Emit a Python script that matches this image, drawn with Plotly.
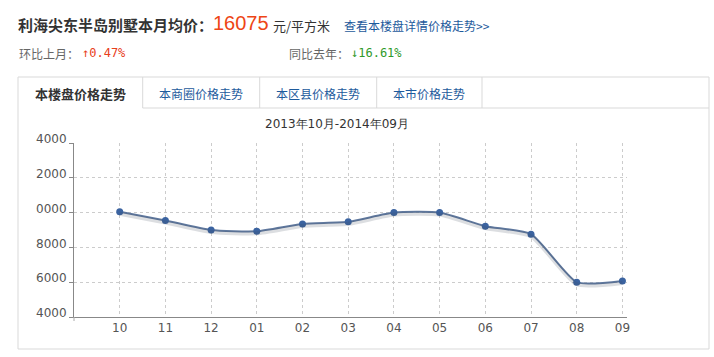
import plotly.graph_objects as go

# ---- data ----
months = ["10", "11", "12", "01", "02", "03", "04", "05", "06", "07", "08", "09"]
prices = [20050, 19550, 19000, 18930, 19350, 19470, 20000, 20000, 19220, 18760, 16000, 16075]
y_tickvals = [24000, 22000, 20000, 18000, 16000, 14000]
y_ticktext = ["4000", "2000", "0000", "8000", "6000", "4000"]
tabs = ["本楼盘价格走势", "本商圈价格走势", "本区县价格走势", "本市价格走势"]
project = "利海尖东半岛别墅本月均价："
avg_price = "16075"
unit = "元/平方米"
detail_link = "查看本楼盘详情价格走势>>"
mom_label, mom_value = "环比上月：", "↑0.47%"
yoy_label, yoy_value = "同比去年：", "↓16.61%"
period = "2013年10月-2014年09月"

# ---- geometry helpers (pixels -> paper) ----
W, H = 714, 357
L, R, T, B = 74, 627, 143, 317
def px(x):
    return (x - L) / (R - L)
def py(y):
    return (B - y) / (B - T)

CJK = "Noto Sans CJK SC"
BORDER = "#d9d9d9"

fig = go.Figure()

# shadow trace (offset a couple of pixels downward via shifted overlay axis)
shift = 2 * 10000 / (B - T)
fig.add_trace(go.Scatter(
    x=months, y=prices, mode="lines", yaxis="y2",
    line=dict(color="rgba(60,70,90,0.18)", width=4, shape="spline", smoothing=0.55),
    hoverinfo="skip", showlegend=False))
fig.add_trace(go.Scatter(
    x=months, y=prices, mode="lines+markers",
    line=dict(color="#60799f", width=2, shape="spline", smoothing=0.55),
    marker=dict(color="#3b63a0", size=7),
    showlegend=False))

shapes = []
# panel outline
shapes.append(dict(type="line", xref="paper", yref="paper", x0=px(18), x1=px(18), y0=py(77), y1=py(349), line=dict(color=BORDER, width=1)))
shapes.append(dict(type="line", xref="paper", yref="paper", x0=px(709), x1=px(709), y0=py(77), y1=py(349), line=dict(color=BORDER, width=1)))
shapes.append(dict(type="line", xref="paper", yref="paper", x0=px(18), x1=px(709), y0=py(77), y1=py(77), line=dict(color=BORDER, width=1)))
shapes.append(dict(type="line", xref="paper", yref="paper", x0=px(18), x1=px(709), y0=py(349), y1=py(349), line=dict(color=BORDER, width=1)))
# tab separators and tab row bottom
tab_edges = [18, 142.7, 259.7, 376.7, 482]
for xe in tab_edges[1:]:
    shapes.append(dict(type="line", xref="paper", yref="paper", x0=px(xe), x1=px(xe), y0=py(77), y1=py(108), line=dict(color=BORDER, width=1)))
shapes.append(dict(type="line", xref="paper", yref="paper", x0=px(142.7), x1=px(709), y0=py(108), y1=py(108), line=dict(color=BORDER, width=1)))
# small tick at the start of the x axis
shapes.append(dict(type="line", xref="paper", yref="paper", x0=0, x1=0, y0=0, y1=py(321), line=dict(color="#aaaaaa", width=1)))

annotations = []
def txt(x, y, s, size, color, family=CJK, xanchor="left", bold=False):
    if bold:
        s = "<b>" + s + "</b>"
    annotations.append(dict(xref="paper", yref="paper", x=px(x), y=py(y), text=s, showarrow=False,
                            xanchor=xanchor, yanchor="middle",
                            font=dict(size=size, color=color, family=family)))

txt(16, 24, project, 15, "#333333", bold=True)
txt(211, 23, avg_price, 20, "#ee4515", family="Liberation Sans")
txt(271, 25, unit, 13, "#333333")
txt(342, 25, detail_link, 12, "#1d5a9c")
txt(17, 53, mom_label, 12, "#666666")
txt(80, 53, mom_value, 12, "#e8401c", family="DejaVu Sans Mono")
txt(287, 53, yoy_label, 12, "#666666")
txt(349, 53, yoy_value, 12, "#2f9a2a", family="DejaVu Sans Mono")

for i, t in enumerate(tabs):
    cx = (tab_edges[i] + tab_edges[i + 1]) / 2 if i + 1 < len(tab_edges) else 429
    if i == 0:
        txt(80, 93, t, 13, "#333333", xanchor="center", bold=True)
    else:
        txt(cx, 93, t, 12, "#1d5a9c", xanchor="center")

txt(337, 124, period, 12, "#333333", family="DejaVu Sans", xanchor="center")

fig.update_layout(
    width=W, height=H,
    margin=dict(l=L, r=W - R, t=T, b=H - B),
    paper_bgcolor="white", plot_bgcolor="white",
    shapes=shapes, annotations=annotations,
    xaxis=dict(type="category", range=[-1, 11.1], showgrid=True, gridcolor="#cccccc", griddash="dot",
               gridwidth=1, showline=True, linecolor="#888888", linewidth=1, ticks="",
               tickfont=dict(family="DejaVu Sans", size=12, color="#555555"), zeroline=False,
               fixedrange=True),
    yaxis=dict(range=[14000, 24000], tickvals=y_tickvals, ticktext=y_ticktext, showgrid=True,
               gridcolor="#cccccc", griddash="dot", gridwidth=1, showline=True, linecolor="#888888",
               linewidth=1, ticks="outside", ticklen=4, tickcolor="#888888", ticklabelshift=-4,
               tickfont=dict(family="DejaVu Sans", size=12, color="#555555"), zeroline=False,
               fixedrange=True),
    yaxis2=dict(range=[14000 + shift, 24000 + shift], overlaying="y", visible=False, fixedrange=True),
)

fig.write_html("out.html")
